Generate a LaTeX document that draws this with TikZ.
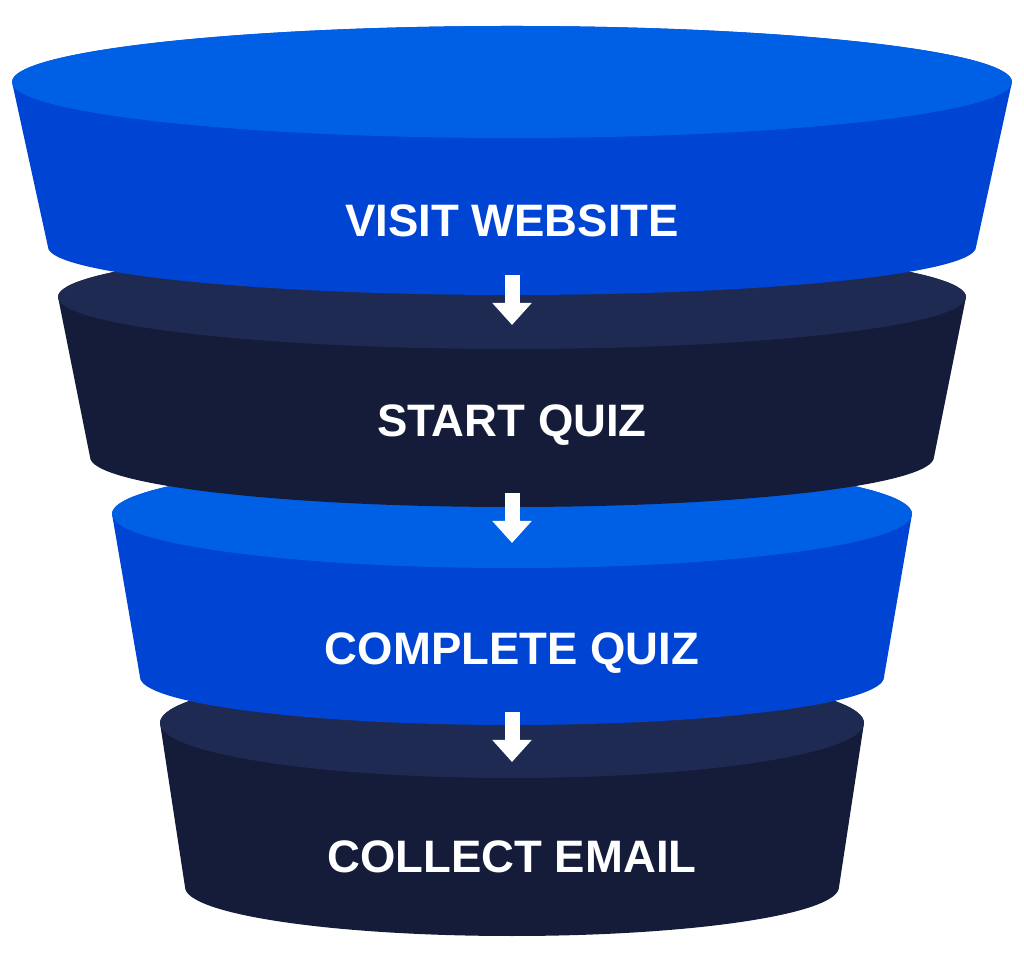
\documentclass[tikz,border=0pt]{standalone}
\usepackage{fontspec}
\setmainfont{Liberation Sans}
\usepackage{tikz}
\usepackage{xcolor}
\usetikzlibrary{arrows.meta}
\definecolor{bluetop}{HTML}{0060E5}
\definecolor{blueside}{HTML}{0044D4}
\definecolor{navytop}{HTML}{1F2A52}
\definecolor{navyside}{HTML}{151C39}
\newcommand{\funnelband}[8]{
    \fill[#1] (512-#4, #3) -- (512-#7, #6) arc[start angle=180, end angle=360, x radius=#7, y radius=#8]
        -- (512+#4, #3) arc[start angle=0, end angle=180, x radius=#4, y radius=#5] -- cycle;
    \fill[#2] (512, #3) ellipse[x radius=#4, y radius=#5];
    }

\begin{document}
\begin{tikzpicture}[x=1pt, y=1pt,
    bandtext/.style={text=white, font=\fontsize{45.5}{50}\selectfont\bfseries, anchor=base},
    flowarrow/.style={white, line width=15pt, -{Triangle[width=38pt, length=22pt]}}]
    \useasboundingbox (0, 0) rectangle (1024, 963);
    \funnelband{navyside}{navytop}{240}{352}{55}{76}{327}{49}
    \funnelband{blueside}{bluetop}{449}{400}{54}{286}{372}{48}
    \funnelband{navyside}{navytop}{666}{454}{52}{506}{422}{50}
    \funnelband{blueside}{bluetop}{881}{500}{56}{716}{464}{48}
    \node[bandtext] (visit) at (512, 726) {VISIT WEBSITE};
    \node[bandtext] (start) at (512, 526) {START QUIZ};
    \node[bandtext] (complete) at (512, 298) {COMPLETE QUIZ};
    \node[bandtext] (collect) at (512, 91) {COLLECT EMAIL};
    \coordinate (visitout) at (512, 688);
    \coordinate (startin) at (512, 638);
    \coordinate (startout) at (512, 470);
    \coordinate (completein) at (512, 420);
    \coordinate (completeout) at (512, 251);
    \coordinate (collectin) at (512, 201);
    \draw[flowarrow] (visitout) -- (startin);
    \draw[flowarrow] (startout) -- (completein);
    \draw[flowarrow] (completeout) -- (collectin);
\end{tikzpicture}
\end{document}
